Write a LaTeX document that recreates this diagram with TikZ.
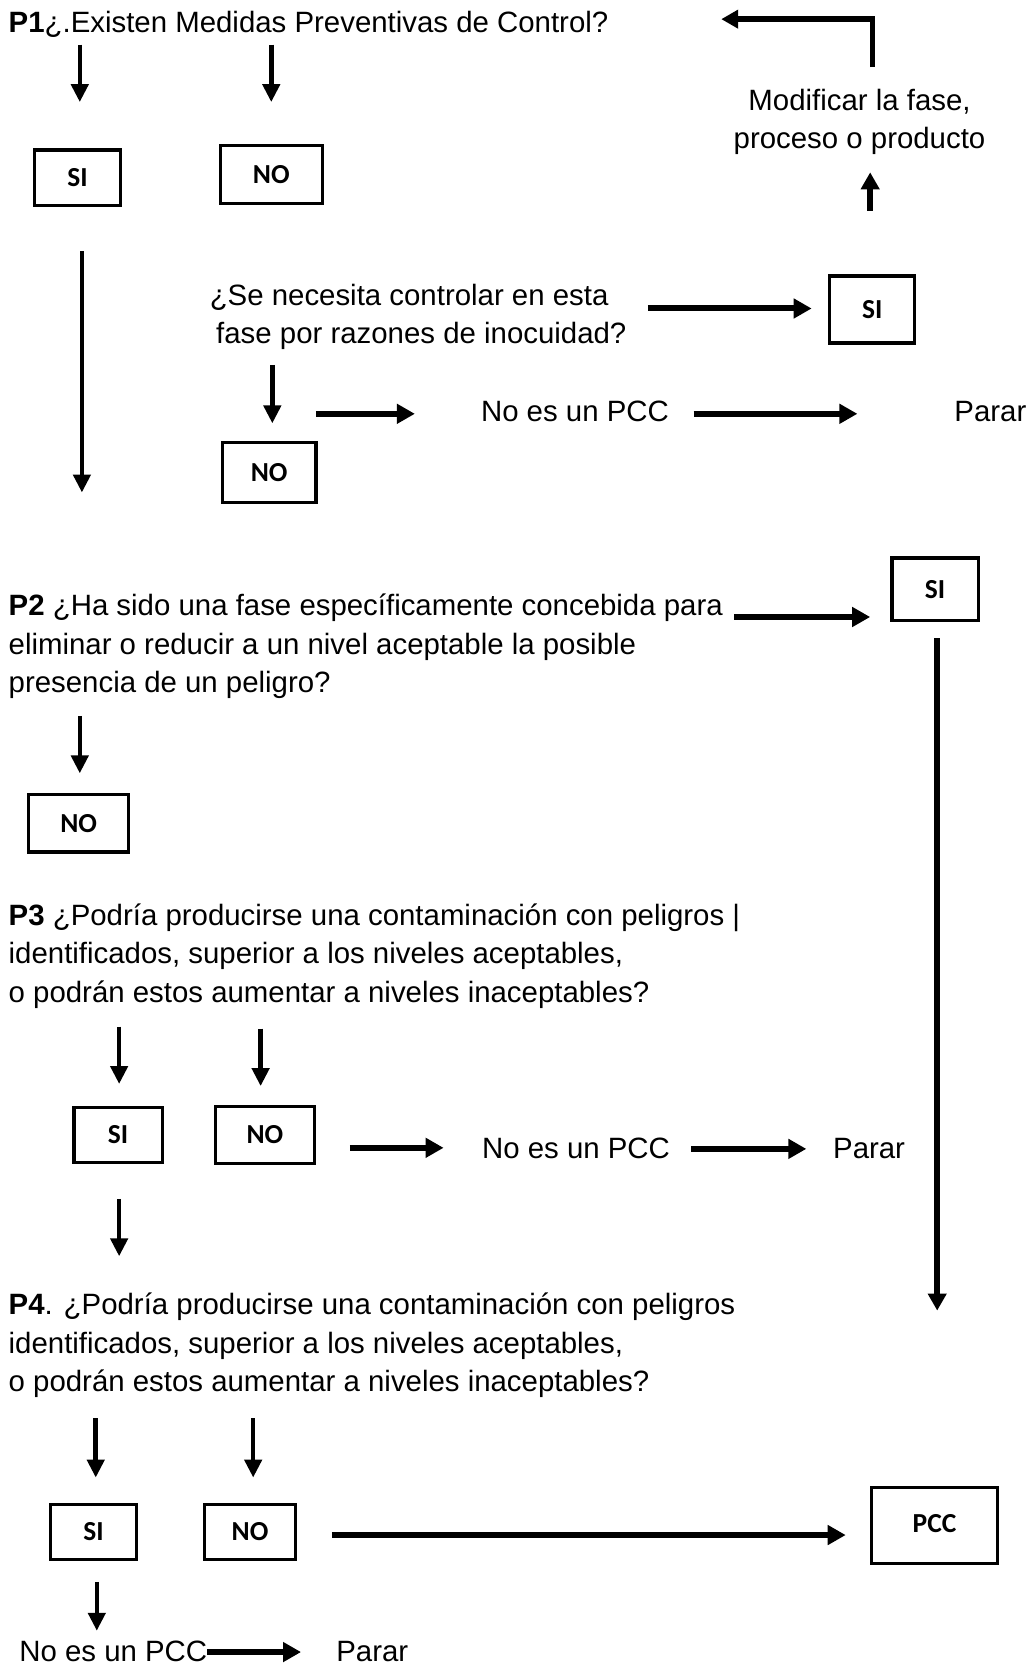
\documentclass[tikz,border=0pt]{standalone}
\usepackage{fontspec}
\setmainfont{Liberation Sans}
\newfontfamily\boxfont{Carlito}
\usetikzlibrary{arrows.meta}
\newlength\px
\setlength\px{1.064pt}
\begin{document}
\begin{tikzpicture}[x=1\px, y=-1\px,
  txt/.style={inner sep=0, font=\fontsize{29.4}{38.3}\selectfont, align=left},
  answer/.style={draw, line width=3.2pt, inner sep=0, font=\boxfont\bfseries\fontsize{27.5}{30}\selectfont},
  thin/.style={line width=4.5pt, -{Triangle[length=18pt, width=17pt]}},
  thick/.style={line width=6pt, -{Triangle[length=18pt, width=19pt]}},
  mid/.style={line width=5.5pt, -{Triangle[length=17pt, width=18pt]}}]
\useasboundingbox[fill=white] (0,0) rectangle (968,1568);

% multi-line texts are placed by the baseline of their last line

% ---- P1 ----
\node[txt, anchor=base west] (p1) at (8,31) {\textbf{P1}¿.Existen Medidas Preventivas de Control?};
\coordinate (p1a) at (75,42);  \coordinate (p1ae) at (75,96);
\coordinate (p1b) at (255,42); \coordinate (p1be) at (255,96);
\draw[thin] (p1a) -- (p1ae);
\draw[thin] (p1b) -- (p1be);
\node[answer, minimum width=81\px, minimum height=52\px] (si1) at (73,167) {SI};
\node[answer, minimum width=96\px, minimum height=54\px] (no1) at (255,164) {NO};

% modify branch
\node[txt, align=center, anchor=base] (mod) at (808,140) {Modificar la fase,\\proceso o producto};
\coordinate (modup) at (818,198); \coordinate (modupe) at (818,162);
\draw[mid] (modup) -- (modupe);
\coordinate (back) at (820,63); \coordinate (backe) at (678,18);
\draw[mid] (back) |- (backe);

% long SI path down to P2
\coordinate (si1d) at (77,236); \coordinate (si1de) at (77,463);
\draw[thin] (si1d) -- (si1de);

% control question
\node[txt, anchor=base west] (ctl) at (197,323) {¿Se necesita controlar en esta\\\hspace*{0.22em}fase por razones de inocuidad?};
\coordinate (ctlr) at (609,290); \coordinate (ctlre) at (763,290);
\draw[thick] (ctlr) -- (ctlre);
\node[answer, minimum width=80\px, minimum height=63\px] (si2) at (820,291) {SI};
\coordinate (ctld) at (256,343); \coordinate (ctlde) at (256,398);
\draw[thin] (ctld) -- (ctlde);
\coordinate (ctln) at (297,389); \coordinate (ctlne) at (390,389);
\draw[thick] (ctln) -- (ctlne);
\node[txt, anchor=base west] (npcc1) at (452,396) {No es un PCC};
\coordinate (np1) at (652,389); \coordinate (np1e) at (806,389);
\draw[thick] (np1) -- (np1e);
\node[txt, anchor=base west] (stop1) at (897,396) {Parar};
\node[answer, minimum width=88\px, minimum height=56\px] (no2) at (253,444) {NO};

% ---- P2 ----
\node[answer, minimum width=81\px, minimum height=59\px] (si3) at (879,554) {SI};
\node[txt, anchor=base west] (p2) at (8,651) {\textbf{P2} ¿Ha sido una fase específicamente concebida para\\eliminar o reducir a un nivel aceptable la posible\\presencia de un peligro?};
\coordinate (p2r) at (690,580); \coordinate (p2re) at (818,580);
\draw[thick] (p2r) -- (p2re);
\coordinate (si3d) at (881,600); \coordinate (si3de) at (881,1232);
\draw[mid] (si3d) -- (si3de);
\coordinate (p2d) at (75,673); \coordinate (p2de) at (75,727);
\draw[thin] (p2d) -- (p2de);
\node[answer, minimum width=94\px, minimum height=54\px] (no3) at (74,774) {NO};

% ---- P3 ----
\node[txt, anchor=base west] (p3) at (8,942) {\textbf{P3} ¿Podría producirse una contaminación con peligros |\\identificados, superior a los niveles aceptables,\\o podrán estos aumentar a niveles inaceptables?};
\coordinate (p3a) at (112,965); \coordinate (p3ae) at (112,1019);
\coordinate (p3b) at (245,967); \coordinate (p3be) at (245,1021);
\draw[thin] (p3a) -- (p3ae);
\draw[thin] (p3b) -- (p3be);
\node[answer, minimum width=83\px, minimum height=52\px] (si4) at (111,1067) {SI};
\node[answer, minimum width=93\px, minimum height=53\px] (no4) at (249,1067) {NO};
\coordinate (no4r) at (329,1079); \coordinate (no4re) at (417,1079);
\draw[thick] (no4r) -- (no4re);
\node[txt, anchor=base west] (npcc2) at (453,1089) {No es un PCC};
\coordinate (np2) at (650,1080); \coordinate (np2e) at (758,1080);
\draw[thick] (np2) -- (np2e);
\node[txt, anchor=base west] (stop2) at (783,1089) {Parar};
\coordinate (si4d) at (112,1127); \coordinate (si4de) at (112,1181);
\draw[thin] (si4d) -- (si4de);

% ---- P4 ----
\node[txt, anchor=base west] (p4) at (8,1308) {\textbf{P4}. ¿Podría producirse una contaminación con peligros\\identificados, superior a los niveles aceptables,\\o podrán estos aumentar a niveles inaceptables?};
\coordinate (p4a) at (90,1333); \coordinate (p4ae) at (90,1389);
\coordinate (p4b) at (238,1333); \coordinate (p4be) at (238,1389);
\draw[thin] (p4a) -- (p4ae);
\draw[thin] (p4b) -- (p4be);
\node[answer, minimum width=81\px, minimum height=52\px] (si5) at (88,1440) {SI};
\node[answer, minimum width=85\px, minimum height=52\px] (no5) at (235,1440) {NO};
\node[answer, minimum width=119\px, minimum height=71\px] (pcc) at (878.5,1434) {\raisebox{4\px}{PCC}};
\coordinate (no5r) at (312,1443); \coordinate (no5re) at (795,1443);
\draw[thick] (no5r) -- (no5re);
\coordinate (si5d) at (91,1487); \coordinate (si5de) at (91,1533);
\draw[thin] (si5d) -- (si5de);
\node[txt, anchor=base west] (npcc3) at (18,1562) {No es un PCC};
\coordinate (np3) at (195,1553); \coordinate (np3e) at (283,1553);
\draw[thick] (np3) -- (np3e);
\node[txt, anchor=base west] (stop3) at (316,1562) {Parar};
\end{tikzpicture}
\end{document}
